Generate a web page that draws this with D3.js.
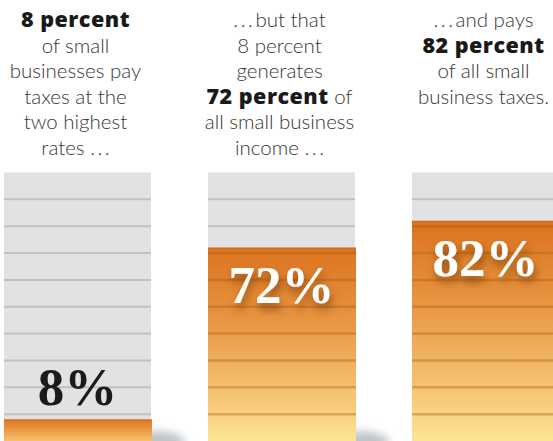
<!DOCTYPE html>
<html>
<head>
<meta charset="utf-8">
<script src="https://cdn.jsdelivr.net/npm/d3@7"></script>
<style>
  html, body { margin: 0; padding: 0; background: #ffffff; }
  svg { display: block; }
</style>
</head>
<body>
<div id="chart"></div>
<script>
// ---- data ----
const categories = ["Share of small businesses", "Share of small business income", "Share of small business taxes"];
const values = [8, 72, 82];
const valueLabels = ["8%", "72%", "82%"];
const gridTicks = [10, 20, 30, 40, 50, 60, 70, 80, 90];
// captions: "**" marks bold segments
const captions = [
  ["**8 percent**", "of small", "businesses pay", "taxes at the", "two highest", "rates .\u2009.\u2009."],
  [".\u2009.\u2009.\u2009but that", "8 percent", "generates", "**72 percent** of", "all small business", "income .\u2009.\u2009."],
  [".\u2009.\u2009.\u2009and pays", "**82 percent**", "of all small", "business taxes."]
];

// ---- layout ----
const W = 553, H = 441;
const colTop = 172.5, colBottom = 441;

const svg = d3.select("#chart").append("svg")
  .attr("width", W).attr("height", H);

const defs = svg.append("defs");
const grad = defs.append("linearGradient")
  .attr("id", "orangeGrad").attr("x1", 0).attr("y1", 0).attr("x2", 0).attr("y2", 1);
grad.append("stop").attr("offset", "0%").attr("stop-color", "#dc731e");
grad.append("stop").attr("offset", "35%").attr("stop-color", "#e7933f");
grad.append("stop").attr("offset", "70%").attr("stop-color", "#f3bd6c");
grad.append("stop").attr("offset", "100%").attr("stop-color", "#fde394");

const smallGrad = defs.append("linearGradient")
  .attr("id", "orangeGradSmall").attr("x1", 0).attr("y1", 0).attr("x2", 0).attr("y2", 1);
smallGrad.append("stop").attr("offset", "0%").attr("stop-color", "#de761f");
smallGrad.append("stop").attr("offset", "100%").attr("stop-color", "#f7c06c");

const shadowBlur = defs.append("filter").attr("id", "blur")
  .attr("x", "-50%").attr("y", "-50%").attr("width", "200%").attr("height", "200%");
shadowBlur.append("feGaussianBlur").attr("stdDeviation", 4);

const textShadow = defs.append("filter").attr("id", "textShadow")
  .attr("x", "-30%").attr("y", "-30%").attr("width", "160%").attr("height", "180%");
textShadow.append("feDropShadow")
  .attr("dx", 2).attr("dy", 6).attr("stdDeviation", 4)
  .attr("flood-color", "#7a3c08").attr("flood-opacity", 0.8);

const x = d3.scaleBand()
  .domain(categories)
  .range([4, 559])
  .paddingInner(57 / 204)
  .paddingOuter(0);

const y = d3.scaleLinear().domain([0, 100]).range([colBottom, colTop]);

const cols = svg.append("g").selectAll("g.col")
  .data(categories.map((c, i) => ({ c, v: values[i], label: valueLabels[i], cap: captions[i], i })))
  .join("g").attr("class", "col");

// floor shadow
cols.append("ellipse")
  .attr("cx", d => x(d.c) + x.bandwidth() + 2)
  .attr("cy", colBottom + 1)
  .attr("rx", 32).attr("ry", 11)
  .attr("fill", "#aeb5bc")
  .attr("opacity", 0.8)
  .attr("filter", "url(#blur)");

// gray background column
cols.append("rect")
  .attr("x", d => x(d.c))
  .attr("y", y(100))
  .attr("width", x.bandwidth())
  .attr("height", y(0) - y(100))
  .attr("fill", "#e1e2e4");

// gray grid lines
cols.each(function (d) {
  d3.select(this).selectAll("line.grid")
    .data(gridTicks)
    .join("line").attr("class", "grid")
    .attr("x1", x(d.c)).attr("x2", x(d.c) + x.bandwidth())
    .attr("y1", t => y(t)).attr("y2", t => y(t))
    .attr("stroke", "#c1c1c3").attr("stroke-width", 2);
});

// orange bars
cols.append("rect")
  .attr("x", d => x(d.c))
  .attr("y", d => y(d.v))
  .attr("width", x.bandwidth() + 1)
  .attr("height", d => y(0) - y(d.v))
  .attr("fill", d => d.v < 20 ? "url(#orangeGradSmall)" : "url(#orangeGrad)");

// bar top edge
cols.append("line")
  .attr("x1", d => x(d.c)).attr("x2", d => x(d.c) + x.bandwidth() + 1)
  .attr("y1", d => y(d.v) + 0.5).attr("y2", d => y(d.v) + 0.5)
  .attr("stroke", "#d2691a").attr("stroke-width", 1);

// grid lines over orange
cols.each(function (d) {
  d3.select(this).selectAll("line.ogrid")
    .data(gridTicks.filter(t => t < d.v))
    .join("line").attr("class", "ogrid")
    .attr("x1", x(d.c)).attr("x2", x(d.c) + x.bandwidth() + 1)
    .attr("y1", t => y(t)).attr("y2", t => y(t))
    .attr("stroke", "#a85a14").attr("stroke-opacity", 0.38).attr("stroke-width", 2.5);
});

// value labels
cols.append("text")
  .attr("x", d => x(d.c) + x.bandwidth() / 2)
  .attr("y", d => d.v < 20 ? y(d.v) - 15 : y(d.v) + 55)
  .attr("text-anchor", "middle")
  .attr("font-family", "'Liberation Serif', 'Times New Roman', serif")
  .attr("font-weight", "bold")
  .attr("font-size", 53)
  .attr("fill", d => d.v < 20 ? "#1b1b1b" : "#ffffff")
  .attr("filter", d => d.v < 20 ? null : "url(#textShadow)")
  .text(d => d.label);

// captions
const lineH = 25.5, firstBaseline = 27;
cols.each(function (d) {
  const g = d3.select(this);
  const cx = x(d.c) + x.bandwidth() / 2 - 2;
  d.cap.forEach((line, li) => {
    const t = g.append("text")
      .attr("x", cx)
      .attr("y", firstBaseline + li * lineH)
      .attr("text-anchor", "middle")
      .attr("font-family", "Lato, 'Open Sans', sans-serif")
      .attr("font-size", 20.5)
      .attr("fill", "#363636");
    line.split(/(\*\*[^*]+\*\*)/).filter(s => s.length).forEach(seg => {
      const bold = seg.startsWith("**");
      t.append("tspan")
        .attr("font-family", bold ? "'Open Sans', Lato, sans-serif" : null)
        .attr("font-weight", bold ? 800 : 300)
        .attr("font-size", bold ? 21.5 : null)
        .attr("letter-spacing", bold ? 0.5 : null)
        .attr("fill", bold ? "#1a1a1a" : "#363636")
        .text(bold ? seg.slice(2, -2) : seg);
    });
  });
});
</script>
</body>
</html>
